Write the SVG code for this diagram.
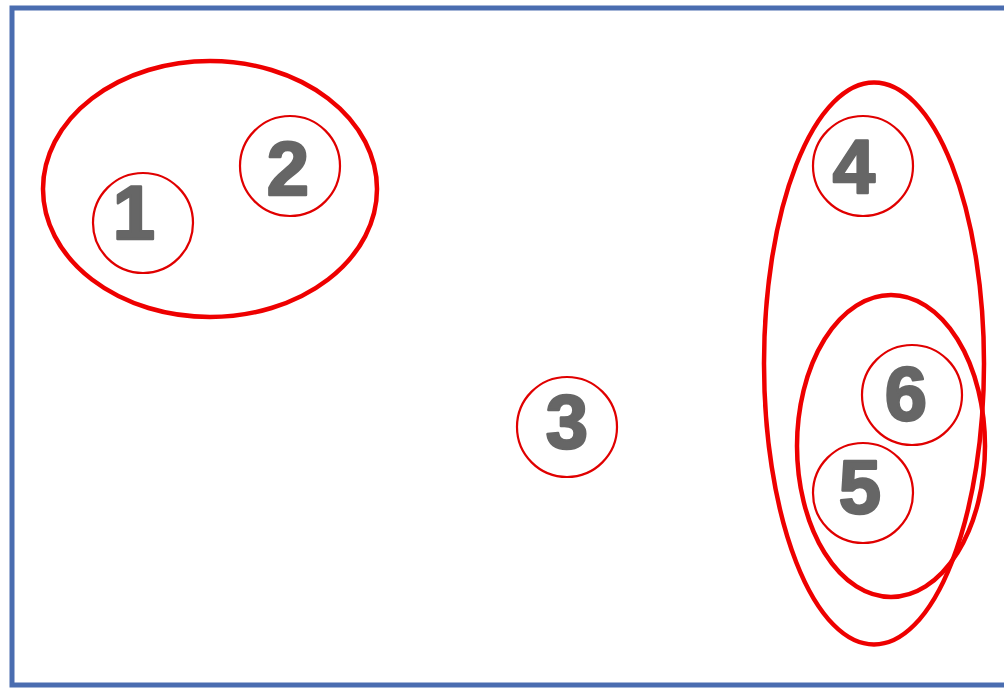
<svg xmlns="http://www.w3.org/2000/svg" width="1004" height="688" viewBox="0 0 1004 688">
<style>
.frame{fill:#ffffff;stroke:#4a6db0;stroke-width:5}
.grp{fill:none;stroke:#ee0000;stroke-width:4.5}
.node{fill:none;stroke:#e00000;stroke-width:2.2}
.lbl{font-family:"Liberation Sans",Arial,sans-serif;font-weight:bold;font-size:76px;fill:#666666;stroke:#666666;stroke-width:2.5;stroke-linejoin:round;text-anchor:middle}
</style>
<rect class="frame" x="12" y="8" width="1010" height="677"/>
<g id="groups">
<ellipse id="g12" class="grp" cx="210" cy="189" rx="167" ry="128"/>
<ellipse id="g456" class="grp" cx="874" cy="363.5" rx="110" ry="281"/>
<ellipse id="g56" class="grp" cx="891" cy="446" rx="94" ry="151"/>
</g>
<g id="n1"><circle class="node" cx="143" cy="223" r="50"/><text class="lbl" x="134" y="239">1</text></g>
<g id="n2"><circle class="node" cx="290" cy="166" r="50"/><text class="lbl" x="288" y="195">2</text></g>
<g id="n3"><circle class="node" cx="567" cy="427" r="50"/><text class="lbl" x="567" y="448">3</text></g>
<g id="n4"><circle class="node" cx="863" cy="166" r="50"/><text class="lbl" x="854" y="193">4</text></g>
<g id="n5"><circle class="node" cx="863" cy="493" r="50"/><text class="lbl" x="860" y="513">5</text></g>
<g id="n6"><circle class="node" cx="912" cy="395" r="50"/><text class="lbl" x="906" y="420">6</text></g>
<g id="connectors"></g>
</svg>
